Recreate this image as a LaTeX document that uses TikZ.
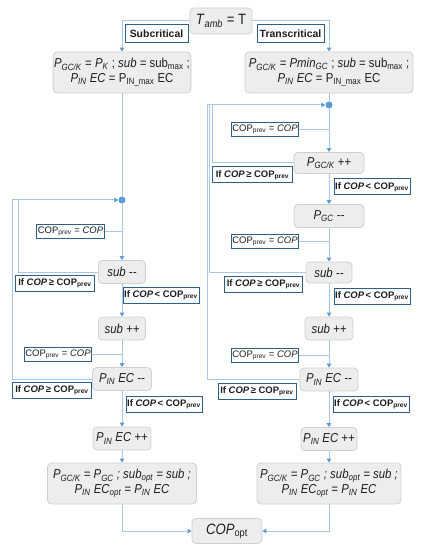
\documentclass[tikz,border=0pt]{standalone}
\usepackage{fontspec}
\setmainfont{Liberation Sans}
\newfontfamily\narrowsans{Liberation Sans}[FakeStretch=0.88]
\usetikzlibrary{arrows.meta}
\definecolor{cyfill}{HTML}{EDEDED}
\definecolor{cyedge}{HTML}{D0D0D0}
\definecolor{cyflow}{HTML}{A9C8E6}
\definecolor{cytip}{HTML}{5B9BD5}
\definecolor{cytag}{HTML}{2F5D8C}
\definecolor{cyink}{HTML}{1E1E1E}
\newcommand{\sbs}[1]{\textsubscript{#1}}
\newcommand{\cpv}{COP\sbs{prev}}
\newcommand{\dec}{-{}-}
\tikzset{
  bx/.style={rounded corners=4bp, draw=cyedge, fill=cyfill, align=center, inner sep=1bp, text=cyink, line width=0.8bp},
  stp/.style={bx, font=\narrowsans\fontsize{13}{13}\selectfont\itshape, minimum height=23bp},
  big/.style={bx, font=\narrowsans\fontsize{13}{15}\selectfont, minimum height=41bp},
  hd/.style={draw=cytag, fill=white, line width=1bp, inner sep=1bp, minimum height=18bp, font=\fontsize{10.5}{12}\selectfont\bfseries, text=cyink},
  tag/.style={hd, minimum height=16bp, font=\fontsize{9.5}{11}\selectfont\bfseries},
  asg/.style={hd, minimum height=14bp, minimum width=66bp, font=\fontsize{9.5}{11}\selectfont},
  lnk/.style={draw=cyflow, line width=1bp},
  arr/.style={lnk, -{Triangle[length=4bp, width=4.5bp, color=cytip]}},
  dot/.style={circle, fill=cytip, inner sep=0pt, minimum size=7bp},
}

\begin{document}
\begin{tikzpicture}[x=1bp, y=-1bp, ge/.style={tag, minimum width=78bp}, lt/.style={tag, minimum width=76bp}]
    \useasboundingbox (0,0) rectangle (422,550);
    \node[bx, font=\narrowsans\fontsize{15}{16}\selectfont, minimum width=62bp, minimum height=26bp] (tamb) at (221,21) {\textit{T}\sbs{\textit{amb}} = T};
    \node[hd, minimum width=63bp] (subc) at (156.5,34) {Subcritical};
    \node[hd, minimum width=67bp] (trans) at (290.5,34) {Transcritical};
    \node[big, minimum width=136bp] (L0) at (122,72.5) {\textit{P}\sbs{\textit{GC/K}} = \textit{P}\sbs{\textit{K}} ; \textit{sub} = sub\sbs{max} ;\\\textit{P}\sbs{\textit{IN}} \textit{EC} = P\sbs{IN\_max} EC};
    \node[big, minimum width=168bp] (R0) at (329,72.5) {\textit{P}\sbs{\textit{GC/K}} = \textit{Pmin}\sbs{\textit{GC}} ; \textit{sub} = sub\sbs{max} ;\\\textit{P}\sbs{\textit{IN}} \textit{EC} = P\sbs{IN\_max} EC};
    \node[dot] (jl) at (122,200) {};
    \node[asg] (la1) at (70.5,231) {\cpv{} = \textit{COP}};
    \node[stp, minimum width=47bp] (L1) at (122,272) {sub \dec};
    \node[ge] (lg1) at (55,283) {If \textit{COP}\,≥ \cpv};
    \node[lt] (ll1) at (161,295) {If \textit{COP}\,< \cpv};
    \node[stp, minimum width=47bp] (L2) at (122,328.5) {sub ++};
    \node[asg] (la2) at (58,354) {\cpv{} = \textit{COP}};
    \node[stp, minimum width=59bp] (L3) at (122,379) {\textit{P}\sbs{IN} EC \dec};
    \node[ge] (lg2) at (52,390) {If \textit{COP}\,≥ \cpv};
    \node[lt] (ll2) at (164,404.5) {If \textit{COP}\,< \cpv};
    \node[stp, minimum width=58bp] (L4) at (122,438.5) {\textit{P}\sbs{IN} EC ++};
    \node[big, minimum width=149bp, font=\narrowsans\fontsize{13}{15}\selectfont\itshape] (L5) at (122,483.5) {\textit{P}\sbs{GC/K} = \textit{P}\sbs{GC} ; sub\sbs{opt} = sub ;\\P\sbs{IN} EC\sbs{opt} = P\sbs{IN} EC};
    \node[dot] (jr) at (329,105) {};
    \node[asg] (ra1) at (265,129.5) {\cpv{} = \textit{COP}};
    \node[stp, minimum width=70bp, minimum height=21bp] (R1) at (329,163) {\textit{P}\sbs{GC/K} ++};
    \node[ge, minimum width=80bp] (rg1) at (252.5,175) {If \textit{COP}\,≥ \cpv};
    \node[lt] (rl1) at (372,187) {If \textit{COP}\,< \cpv};
    \node[stp, minimum width=70bp] (R2) at (329,216) {\textit{P}\sbs{GC} \dec};
    \node[asg] (ra2) at (265,241.5) {\cpv{} = \textit{COP}};
    \node[stp, minimum width=46bp, minimum height=21bp] (R3) at (329,272.5) {sub \dec};
    \node[ge] (rg2) at (263.5,284.5) {If \textit{COP}\,≥ \cpv};
    \node[lt] (rl2) at (372,296) {If \textit{COP}\,< \cpv};
    \node[stp, minimum width=48bp] (R4) at (329,328.5) {sub ++};
    \node[asg] (ra3) at (265,355) {\cpv{} = \textit{COP}};
    \node[stp, minimum width=58bp] (R5) at (329,379.5) {\textit{P}\sbs{IN} EC \dec};
    \node[ge] (rg3) at (257,391.5) {If \textit{COP}\,≥ \cpv};
    \node[lt] (rl3) at (371,404) {If \textit{COP}\,< \cpv};
    \node[stp, minimum width=56bp] (R6) at (329,439) {\textit{P}\sbs{IN} EC ++};
    \node[big, minimum width=144bp, font=\narrowsans\fontsize{13}{15}\selectfont\itshape] (R7) at (329,483.5) {\textit{P}\sbs{GC/K} = \textit{P}\sbs{GC} ; sub\sbs{opt} = sub ;\\P\sbs{IN} EC\sbs{opt} = P\sbs{IN} EC};
    \node[bx, font=\narrowsans\fontsize{15}{16}\selectfont, minimum width=70bp, minimum height=25bp] (cop) at (227,531) {\textit{COP}\sbs{opt}};
    \coordinate (lo1) at (12,200);
    \coordinate (lo2) at (18,200);
    \coordinate (ro1) at (207,105);
    \coordinate (ro2) at (209.5,105);
    \coordinate (ro3) at (212,105);
    \draw[arr] (tamb.west) -| (L0.north);
    \draw[arr] (tamb.east) -| (R0.north);
    \draw[lnk] (L0) -- (jl);
    \draw[lnk] (R0) -- (jr);
    \foreach \a/\b in {jl/L1,L1/L2,L2/L3,L3/L4,L4/L5,jr/R1,R1/R2,R2/R3,R3/R4,R4/R5,R5/R6,R6/R7} \draw[arr] (\a) -- (\b);
    \foreach \s/\c in {la1/jl,la2/jl,ra1/jr,ra2/jr,ra3/jr} \draw[lnk] (\s.east) -- (\s.east -| \c.center);
    \draw[lnk] (L3.west) -| (lo1);
    \draw[lnk] (L1.west) -| (lo2);
    \draw[arr] (lo1) -- (jl.west);
    \draw[lnk] (R5.west) -| (ro1);
    \draw[lnk] (R3.west) -| (ro2);
    \draw[lnk] (R1.west) -| (ro3);
    \draw[arr] (ro1) -- (jr.west);
    \draw[arr] (L5.south) |- (cop.west);
    \draw[arr] (R7.south) |- (cop.east);
\end{tikzpicture}
\end{document}
